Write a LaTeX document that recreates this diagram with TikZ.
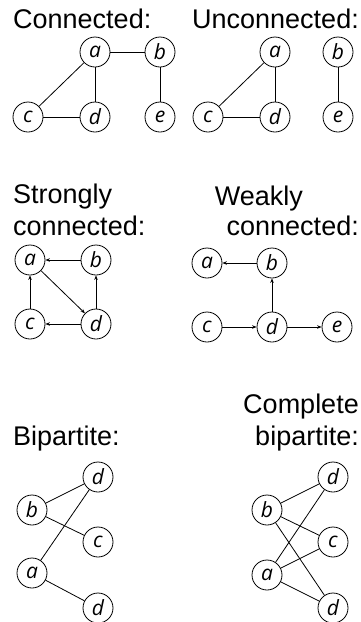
\documentclass[tikz,border=0pt]{standalone}
\usepackage{fontspec}
\setmainfont{Liberation Sans}
\newfontfamily\vertexfont{Open Sans}
\usetikzlibrary{arrows.meta}
\tikzset{
  vtx/.style={draw, circle, line width=0.8pt, minimum size=30pt, inner sep=0pt,
    font=\vertexfont\itshape\fontsize{21}{21}\selectfont},
  heading/.style={font=\fontsize{27}{30}\selectfont, inner sep=0pt},
  edge/.style={line width=0.8pt},
  arc/.style={line width=0.8pt, -{Stealth[length=4.5pt,width=3.5pt]}},
}
\begin{document}
\begin{tikzpicture}[x=1pt,y=-1pt]
\useasboundingbox (0,0) rectangle (360,622);

% --- Connected ---
\node[heading, anchor=base west] (h1) at (13,28) {Connected:};
\node[vtx] (ca) at (95,52) {a};
\node[vtx] (cb) at (160,52) {b};
\node[vtx] (cc) at (28,117) {c};
\node[vtx] (cd) at (95,117) {d};
\node[vtx] (ce) at (160,117) {e};
\draw[edge] (ca) -- (cb);
\draw[edge] (ca) -- (cc);
\draw[edge] (ca) -- (cd);
\draw[edge] (cc) -- (cd);
\draw[edge] (cb) -- (ce);

% --- Unconnected ---
\node[heading, anchor=base east] (h2) at (359,28) {Unconnected:};
\node[vtx] (ua) at (275,52) {a};
\node[vtx] (ub) at (338,52) {b};
\node[vtx] (uc) at (208,117) {c};
\node[vtx] (ud) at (275,117) {d};
\node[vtx] (ue) at (338,117) {e};
\draw[edge] (ua) -- (uc);
\draw[edge] (ua) -- (ud);
\draw[edge] (uc) -- (ud);
\draw[edge] (ub) -- (ue);

% --- Strongly connected ---
\node[heading, anchor=base west] (h3a) at (13,203) {Strongly};
\node[heading, anchor=base west] (h3b) at (13,235) {connected:};
\node[vtx] (sa) at (30,260) {a};
\node[vtx] (sb) at (96,260) {b};
\node[vtx] (sc) at (30,324) {c};
\node[vtx] (sd) at (96,324) {d};
\draw[arc] (sb) -- (sa);
\draw[arc] (sa) -- (sd);
\draw[arc] (sd) -- (sb);
\draw[arc] (sd) -- (sc);
\draw[arc] (sc) -- (sa);

% --- Weakly connected ---
\node[heading, anchor=base east] (h4a) at (303,205) {Weakly};
\node[heading, anchor=base east] (h4b) at (359,235) {connected:};
\node[vtx] (wa) at (207,263) {a};
\node[vtx] (wb) at (272,263) {b};
\node[vtx] (wc) at (207,327) {c};
\node[vtx] (wd) at (272,327) {d};
\node[vtx] (we) at (337,327) {e};
\draw[arc] (wb) -- (wa);
\draw[arc] (wd) -- (wb);
\draw[arc] (wc) -- (wd);
\draw[arc] (wd) -- (we);

% --- Bipartite ---
\node[heading, anchor=base west] (h5) at (13,445) {Bipartite:};
\node[vtx] (bd1) at (98,477) {d};
\node[vtx] (bb) at (32,510) {b};
\node[vtx] (bc) at (98,542) {c};
\node[vtx] (ba) at (32,573) {a};
\node[vtx] (bd2) at (98,608) {d};
\draw[edge] (bb) -- (bd1);
\draw[edge] (bb) -- (bc);
\draw[edge] (ba) -- (bd1);
\draw[edge] (ba) -- (bd2);

% --- Complete bipartite ---
\node[heading, anchor=base east] (h6a) at (359,413) {Complete};
\node[heading, anchor=base east] (h6b) at (359,445) {bipartite:};
\node[vtx] (kd1) at (333,477) {d};
\node[vtx] (kb) at (267,510) {b};
\node[vtx] (kc) at (333,542) {c};
\node[vtx] (ka) at (267,575) {a};
\node[vtx] (kd2) at (333,608) {d};
\draw[edge] (kb) -- (kd1);
\draw[edge] (kb) -- (kc);
\draw[edge] (kb) -- (kd2);
\draw[edge] (ka) -- (kd1);
\draw[edge] (ka) -- (kc);
\draw[edge] (ka) -- (kd2);
\end{tikzpicture}
\end{document}
